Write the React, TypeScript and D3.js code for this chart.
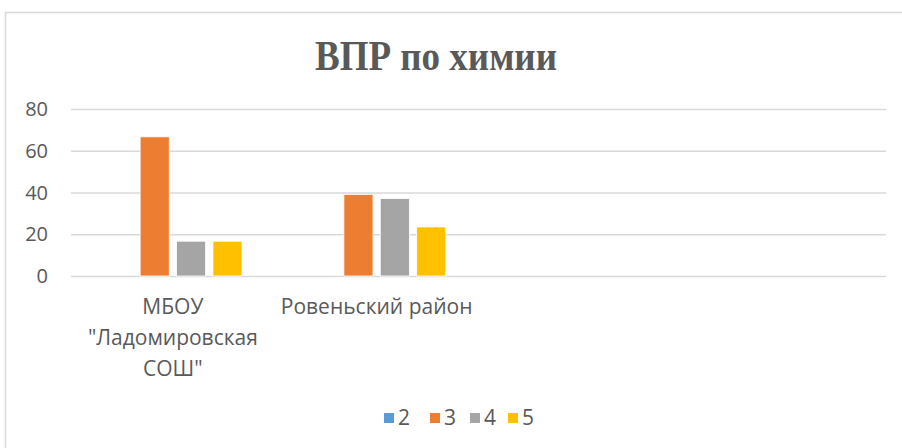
import * as d3 from "d3";
import { useRef, useEffect } from "react";

const categories = ['МБОУ "Ладомировская СОШ"', "Ровеньский район", "", " "];
const seriesNames = ["2", "3", "4", "5"];
const series2 = [0, 0, 0, 0];
const series3 = [66.67, 39.1, 0, 0];
const series4 = [16.67, 37.1, 0, 0];
const series5 = [16.67, 23.5, 0, 0];
const yTicks = [0, 20, 40, 60, 80];

const colors = ["#5b9bd5", "#ed7d31", "#a5a5a5", "#ffc000"];
const textColor = "#595959";
const font = "'Open Sans', 'Liberation Sans', sans-serif";

export default function App() {
  const ref = useRef<SVGSVGElement>(null);

  useEffect(() => {
    if (!ref.current) return;
    const W = 902;
    const H = 448;
    const svg = d3.select(ref.current);
    svg.selectAll("*").remove();

    const margin = { left: 71, right: 16, top: 109, bottom: 172 };
    const width = W - margin.left - margin.right;
    const height = H - margin.top - margin.bottom;

    // chart area border
    svg
      .append("rect")
      .attr("x", 5.5)
      .attr("y", 12.5)
      .attr("width", W + 10)
      .attr("height", H)
      .attr("fill", "white")
      .attr("stroke", "#d9d9d9")
      .attr("stroke-width", 1.5);

    // title
    svg
      .append("text")
      .attr("x", 436)
      .attr("y", 70)
      .attr("text-anchor", "middle")
      .attr("font-family", "'Liberation Serif', 'Times New Roman', serif")
      .attr("font-size", 42)
      .attr("font-weight", "bold")
      .attr("fill", textColor)
      .attr("textLength", 242)
      .attr("lengthAdjust", "spacingAndGlyphs")
      .text("ВПР по химии");

    const g = svg
      .append("g")
      .attr("transform", `translate(${margin.left},${margin.top})`);

    const x0 = d3.scaleBand().domain(categories).range([0, width]).padding(0);
    const x1 = d3
      .scaleBand()
      .domain(seriesNames)
      .range([0, x0.bandwidth()])
      .paddingInner(0.2)
      .paddingOuter(0.9);
    const y = d3.scaleLinear().domain([0, 80]).range([height, 0]);

    // gridlines
    g.selectAll(".grid")
      .data(yTicks)
      .enter()
      .append("line")
      .attr("x1", 0)
      .attr("x2", width)
      .attr("y1", (d) => y(d) + 0.5)
      .attr("y2", (d) => y(d) + 0.5)
      .attr("stroke", "#d9d9d9")
      .attr("stroke-width", 1.3);

    // y labels
    g.selectAll(".ylab")
      .data(yTicks)
      .enter()
      .append("text")
      .attr("x", -23)
      .attr("y", (d) => y(d))
      .attr("dy", "0.35em")
      .attr("text-anchor", "end")
      .attr("font-family", font)
      .attr("font-size", 20)
      .attr("fill", textColor)
      .text((d) => d);

    const allSeries = [series2, series3, series4, series5];
    allSeries.forEach((vals, si) => {
      g.selectAll(`.bar-${si}`)
        .data(vals)
        .enter()
        .append("rect")
        .attr("x", (_, i) => (x0(categories[i]) || 0) + (x1(seriesNames[si]) || 0))
        .attr("y", (d) => y(d))
        .attr("width", x1.bandwidth())
        .attr("height", (d) => height - y(d))
        .attr("fill", colors[si])
        .attr("stroke", "white")
        .attr("stroke-width", 0.8);
    });

    // category labels with wrapping
    categories.forEach((cat) => {
      const words = cat.trim().split(/\s+/).filter((w) => w);
      if (!words.length) return;
      const cx = (x0(cat) || 0) + x0.bandwidth() / 2;
      const text = g
        .append("text")
        .attr("text-anchor", "middle")
        .attr("font-family", font)
        .attr("font-size", 21)
        .attr("fill", textColor);
      const lines: string[] = [];
      let current: string[] = [];
      const probe = text.append("tspan");
      words.forEach((w) => {
        const test = [...current, w].join(" ");
        probe.text(test);
        const len = (probe.node() as SVGTSpanElement).getComputedTextLength();
        if (len > 200 && current.length) {
          lines.push(current.join(" "));
          current = [w];
        } else {
          current.push(w);
        }
      });
      if (current.length) lines.push(current.join(" "));
      probe.remove();
      lines.forEach((l, li) => {
        text
          .append("tspan")
          .attr("x", cx)
          .attr("y", height + 38 + li * 31)
          .text(l);
      });
    });

    // legend
    const legendX = [384, 430, 470, 508];
    const lg = svg.append("g");
    seriesNames.forEach((name, i) => {
      lg.append("rect")
        .attr("x", legendX[i])
        .attr("y", 413)
        .attr("width", 10)
        .attr("height", 10)
        .attr("fill", colors[i]);
      lg.append("text")
        .attr("x", legendX[i] + 14)
        .attr("y", 418)
        .attr("dy", "0.35em")
        .attr("font-family", font)
        .attr("font-size", 21)
        .attr("fill", textColor)
        .text(name);
    });
  }, []);

  return (
    <svg
      ref={ref}
      width={902}
      height={448}
      style={{ position: "absolute", left: 0, top: 0, background: "white" }}
    />
  );
}
